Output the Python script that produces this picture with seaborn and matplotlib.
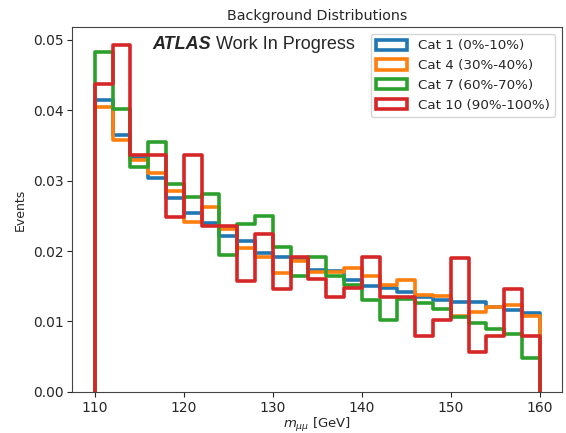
import numpy as np
import pandas as pd
import matplotlib
matplotlib.use("Agg")
import matplotlib.pyplot as plt
from matplotlib.patches import Patch
import seaborn as sns

# Dimuon mass spectrum binning (2 GeV bins, 110-160 GeV)
edges = np.arange(110, 162, 2)
centers = edges[:-1] + 1.0

labels = ["Cat 1 (0%-10%)", "Cat 4 (30%-40%)", "Cat 7 (60%-70%)", "Cat 10 (90%-100%)"]
colors = ["#1f77b4", "#ff7f0e", "#2ca02c", "#d62728"]

cat1 = [0.0415, 0.0365, 0.0332, 0.0304, 0.0276, 0.0254, 0.0240, 0.0222, 0.0215, 0.0198,
        0.0191, 0.0189, 0.0173, 0.0172, 0.0159, 0.0150, 0.0147, 0.0142, 0.0135, 0.0130,
        0.0128, 0.0128, 0.0120, 0.0117, 0.0112]
cat4 = [0.0405, 0.0358, 0.0329, 0.0311, 0.0285, 0.0241, 0.0263, 0.0231, 0.0205, 0.0191,
        0.0169, 0.0186, 0.0171, 0.0171, 0.0176, 0.0164, 0.0152, 0.0159, 0.0138, 0.0136,
        0.0108, 0.0113, 0.0121, 0.0124, 0.0108]
cat7 = [0.0483, 0.0402, 0.0320, 0.0355, 0.0296, 0.0277, 0.0281, 0.0195, 0.0238, 0.0250,
        0.0206, 0.0165, 0.0191, 0.0165, 0.0152, 0.0131, 0.0102, 0.0132, 0.0126, 0.0118,
        0.0106, 0.0098, 0.0090, 0.0082, 0.0048]
cat10 = [0.0438, 0.0493, 0.0336, 0.0336, 0.0248, 0.0337, 0.0236, 0.0236, 0.0157, 0.0224,
         0.0146, 0.0191, 0.0161, 0.0135, 0.0147, 0.0191, 0.0135, 0.0135, 0.0079, 0.0102,
         0.0190, 0.0056, 0.0079, 0.0146, 0.0079]

series = [cat1, cat4, cat7, cat10]

sns.set_style("ticks")
plt.rcParams["font.family"] = ["DejaVu Sans"]

fig = plt.figure(figsize=(5.66, 4.33), dpi=100)
ax = fig.add_axes([0.128, 0.095, 0.865, 0.842])

lw = 2.6
for vals, col in zip(series, colors):
    df = pd.DataFrame({"mass": centers, "w": vals})
    sns.histplot(data=df, x="mass", weights="w", binwidth=2, binrange=(110, 160),
                 element="step", fill=False, color=col, linewidth=lw, ax=ax)
    # close the outline down to the baseline at both ends
    line = ax.lines[-1]
    xs, ys = line.get_data()
    xs = np.asarray(xs, dtype=float)
    ys = np.asarray(ys, dtype=float)
    line.set_data(np.r_[xs[0], xs, xs[-1]], np.r_[0.0, ys, 0.0])

ax.set_xlim(107.5, 162.5)
ax.set_ylim(0, 0.0518)
ax.set_xticks([110, 120, 130, 140, 150, 160])
ax.set_yticks([0.0, 0.01, 0.02, 0.03, 0.04, 0.05])
ax.yaxis.set_major_formatter(matplotlib.ticker.FormatStrFormatter("%.2f"))
ax.tick_params(labelsize=10, length=3.5, width=0.8, pad=3)
for s in ax.spines.values():
    s.set_linewidth(0.8)
    s.set_color("#444444")

ax.set_xlabel(r"$m_{\mu\mu}$ [GeV]", fontsize=9.5, labelpad=1)
ax.set_ylabel("Events", fontsize=9, labelpad=4)
ax.set_title("Background Distributions", fontsize=10.3, pad=5)

t = ax.text(0.163, 0.953, "ATLAS", transform=ax.transAxes, fontsize=13,
            fontweight="bold", fontstyle="italic", family="Liberation Sans",
            va="center", ha="left")
ax.annotate(" Work In Progress", xy=(1, 0), xycoords=t, fontsize=13,
            family="Liberation Sans", va="bottom", ha="left")

handles = [Patch(facecolor="white", edgecolor=c, linewidth=lw) for c in colors]
ax.legend(handles, labels, loc="upper right", fontsize=9.7, frameon=True,
          borderaxespad=0.5, handlelength=2.3, handleheight=0.8, labelspacing=0.5)

fig.savefig("out.png", dpi=100)
